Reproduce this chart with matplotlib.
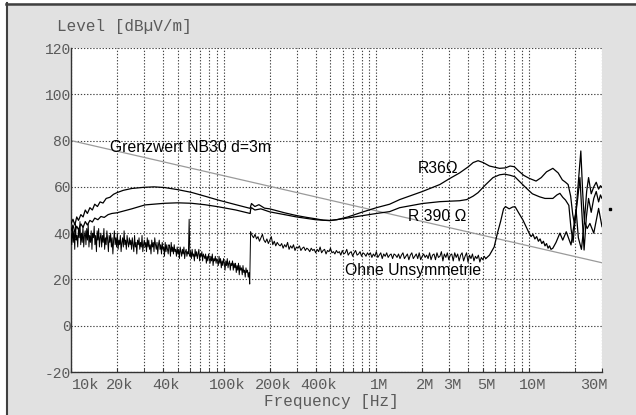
import numpy as np
import matplotlib
matplotlib.use("Agg")
import matplotlib.pyplot as plt
from matplotlib.lines import Line2D
from matplotlib.patches import Rectangle
from matplotlib.transforms import ScaledTranslation

# ---------------- data ----------------
# Limit line (Grenzwert NB30 d=3m)
limit_f = [10e3, 30e6]
limit_level = [80.0, 27.2]

# R36 Ohm curve
r36_f = [10e3, 10.3e3, 10.6e3, 10.9e3, 11.2e3, 11.6e3, 12e3, 12.4e3, 12.8e3, 13.3e3,
         13.8e3, 14.3e3, 14.9e3, 15.5e3, 16.2e3, 17e3, 18e3, 19e3, 20e3, 22e3,
         25e3, 30e3, 35e3, 41e3, 50e3, 61.6e3, 75e3, 92e3, 120e3, 149e3,
         150e3, 152e3, 160e3, 170e3, 185e3, 200e3, 250e3, 300e3, 350e3, 400e3,
         450e3, 495e3, 550e3, 650e3, 800e3, 1e6, 1.22e6, 1.42e6, 2e6, 2.6e6,
         3e6, 3.5e6, 4e6, 4.3e6, 4.63e6, 5e6, 5.5e6, 6.4e6, 7e6, 7.5e6,
         8e6, 8.5e6, 9.2e6, 10e6, 11.1e6, 12e6, 13e6, 14.3e6, 15.5e6, 16.5e6,
         17.3e6, 18e6, 18.7e6, 19.3e6, 19.8e6, 20.3e6, 21e6, 21.8e6, 22.4e6, 23e6,
         23.8e6, 24.5e6, 25.5e6, 26.5e6, 27.5e6, 28.5e6, 29.3e6, 30e6]
r36_level = [44, 46, 43.5, 47, 45.5, 48, 47, 50, 48.5, 51,
             50, 52.5, 51.5, 53.5, 53, 55, 55.5, 56.8, 57.5, 58.5,
             59.3, 59.8, 60, 59.7, 58.8, 57.6, 56, 54.3, 52.3, 50.7,
             51.5, 52.8, 51.5, 52.3, 50.8, 50.5, 48.8, 47.6, 46.8, 46.2,
             45.6, 45.5, 45.8, 47, 49, 51, 52.5, 54.5, 58, 61,
             63.5, 66, 68.7, 70.5, 71.3, 70.5, 69, 68, 68.2, 69,
             68.7, 67, 65, 63.7, 62.5, 64, 66.5, 68, 66, 63,
             62, 61, 56, 48, 44, 50, 62, 75.5, 58, 45,
             58, 64, 57, 60, 62, 59, 60.5, 59.8]

# R 390 Ohm curve
r390_f = [10e3, 10.3e3, 10.6e3, 10.9e3, 11.2e3, 11.6e3, 12e3, 12.4e3, 12.8e3, 13.3e3,
          13.8e3, 14.3e3, 15e3, 15.7e3, 16.5e3, 17.5e3, 18.5e3, 20e3, 25e3, 30.5e3,
          41e3, 50e3, 61.6e3, 75e3, 92e3, 120e3, 149e3,
          150e3, 152e3, 160e3, 175e3, 200e3, 250e3, 300e3, 400e3, 495e3, 600e3,
          800e3, 1e6, 1.22e6, 1.42e6, 2e6, 2.6e6, 3e6, 3.5e6, 3.9e6, 4.3e6,
          4.63e6, 5.2e6, 5.8e6, 6.4e6, 6.9e6, 7.5e6, 8.05e6, 8.6e6, 9.6e6, 10.5e6,
          11.7e6, 12.7e6, 14.3e6, 15.2e6, 15.9e6, 16.6e6, 17.3e6, 18.2e6, 18.8e6, 19.4e6,
          20e6, 20.8e6, 21.5e6, 22.1e6, 22.9e6, 23.7e6, 24.5e6, 25.5e6, 26.5e6, 27.5e6,
          28.5e6, 29.3e6, 30e6]
r390_level = [41, 43.5, 40.5, 43, 41.5, 44, 42.5, 45, 43.5, 45.5,
              44.8, 46.5, 45.8, 47.2, 46.8, 48, 48.5, 48.8, 50.5, 52.2,
              52.9, 53.1, 52.9, 52.3, 51.4, 50, 48.5,
              50.2, 51, 50, 50.5, 49.2, 48, 47, 45.8, 45.4, 46.2,
              47.5, 48.5, 49.3, 51, 52.8, 53.6, 53.8, 54, 54.5, 56,
              57.5, 61, 64, 65.2, 65.5, 65, 64.4, 62.5, 59.4, 57,
              55.7, 55, 55, 56.5, 57.2, 55.5, 54.3, 52, 42, 36,
              46, 55, 64, 50, 32.7, 47, 55, 49, 55, 58,
              53.5, 56.5, 55]

# Ohne Unsymmetrie: low-frequency sweep (10k .. 148k), dense noisy trace
ohne1_level = [
    40, 35, 43, 36, 41, 33, 44, 37, 39, 34, 42, 38, 45, 35, 40, 36, 43, 34, 39, 41,
    35, 42, 37, 44, 34, 39, 36, 41, 33, 40, 38, 43, 35, 39, 32, 41, 37, 42, 34, 38,
    40, 34, 39, 36, 42, 33, 38, 35, 41, 37, 32, 39, 36, 40, 34, 38, 31, 37, 41, 35,
    38, 34, 40, 33, 37, 35, 39, 32, 36, 38, 34, 41, 35, 37, 33, 39, 36, 34, 38, 35,
    37, 33, 38, 35, 32, 39, 34, 36, 31, 37, 35, 38, 33, 36, 34, 39, 32, 35, 37, 34,
    36, 32, 38, 34, 37, 33, 35, 31, 37, 34, 36, 32, 38, 35, 33, 36, 31, 35, 37, 33,
    35, 31, 36, 33, 34, 30, 36, 32, 35, 33, 31, 35, 34, 30, 36, 32, 34, 31, 35, 32,
    33, 30, 34, 31, 33, 29, 34, 32, 30, 33, 31, 34, 29, 32, 33, 30, 32, 31, 46, 30,
    32, 29, 33, 30, 31, 28, 33, 30, 32, 29, 31, 33, 28, 31, 30, 32, 28, 31, 30, 29,
    31, 27, 30, 28, 31, 29, 27, 30, 28, 31, 26, 29, 28, 30, 27, 29, 28, 26, 30, 27,
    29, 25, 28, 26, 29, 27, 24, 28, 26, 29, 25, 27, 28, 24, 27, 26, 28, 24, 27, 25,
    27, 23, 26, 24, 27, 22, 26, 24, 25, 22, 26, 23, 24, 21, 25, 23, 24, 21, 23, 18]
ohne1_f = np.geomspace(10e3, 148e3, len(ohne1_level))  # sweep grid

# Ohne Unsymmetrie: mid band sweep (150k .. 5.2M)
ohne2_level = [
    40.5, 39, 38, 39.5, 37.5, 38.5, 36.5, 38, 39.5, 37, 36, 37.5, 35.5, 37, 38.5, 35, 36.5, 34.5, 36, 35,
    34.5, 35.5, 33.5, 35, 34, 36, 33, 34.5, 33.5, 35, 32.5, 34, 33.5, 34.5, 32.5, 33.5, 34, 32.5, 33.5, 33,
    32, 33.5, 32.5, 33, 31.5, 33, 32, 34, 31.5, 32.5, 33, 31, 32.5, 32, 33.5, 31.5, 32, 31, 32.5, 31.5,
    32, 30.5, 32.5, 31, 31.5, 33, 30.5, 31.5, 32, 30, 31.5, 32.5, 30.5, 31, 32, 30, 31.5, 31, 30, 31.5,
    30.5, 31.5, 29.5, 31, 30, 32, 29.5, 30.5, 31.5, 29, 31, 30, 31.5, 29.5, 30.5, 31, 29, 31, 30.5, 29.5,
    31, 29, 30.5, 31.5, 29, 30, 31, 28.5, 30.5, 31.5, 29, 30, 31, 29, 31.5, 28.5, 30, 31, 29.5, 30.5,
    29, 31.5, 28.5, 30.5, 31, 28.5, 31.5, 29.5, 30, 32, 28, 31, 29.5, 31.5, 28.5, 30.5, 31, 28, 31.5, 29.5,
    31, 28, 30.5, 31.5, 28, 30, 31.5, 27.5, 30.5, 29, 31, 28, 30, 29, 30.5, 27.5, 29.5, 28.5, 30, 29]
ohne2_f = np.geomspace(150e3, 5.2e6, len(ohne2_level))  # sweep grid

# Ohne Unsymmetrie: high band
ohne3_f = [5.5e6, 5.9e6, 6.2e6, 6.5e6, 6.8e6, 7.0e6, 7.4e6, 7.8e6, 8.1e6, 8.5e6,
           9.1e6, 10e6, 10.3e6, 10.6e6, 10.9e6, 11.2e6, 11.5e6, 11.8e6, 12.1e6, 12.4e6,
           12.7e6, 13e6, 13.3e6, 13.6e6, 13.9e6, 14.3e6, 15e6, 15.9e6, 16.6e6, 17.5e6,
           18.8e6, 19.5e6, 20.3e6, 21e6, 22e6, 23e6, 24e6, 25e6, 26.5e6, 28.5e6, 30e6]
ohne3_level = [30.5, 34, 40, 45, 50.5, 51.5, 50.5, 51.3, 51.4, 49,
               45.7, 40, 38.5, 39.5, 37.5, 38.5, 36.5, 37.5, 35.5, 36.5,
               34.5, 35.5, 33.5, 34.5, 33, 33.5, 36, 40, 37, 40.6,
               34.9, 42, 50, 38, 33, 45, 42, 44.2, 40, 50.7, 42.8]

# stray marker right of the plot
dot_f = [33.7e6]
dot_level = [50.4]

# axis ticks
xtick_vals = [10e3, 20e3, 40e3, 100e3, 200e3, 400e3, 1e6, 2e6, 3e6, 5e6, 10e6, 30e6]
xtick_labels = ["10k", "20k", "40k", "100k", "200k", "400k", "1M", "2M", "3M", "5M", "10M", "30M"]
ytick_vals = [-20, 0, 20, 40, 60, 80, 100, 120]
ytick_labels = ["-20", "0", "20", "40", "60", "80", "100", "120"]

# ---------------- figure ----------------
W, H = 636, 415
fig = plt.figure(figsize=(W / 100, H / 100), dpi=100)
fig.patch.set_facecolor("#e1e1e1")

# white margins + dark frame (top and left)
fig.add_artist(Rectangle((0, 1 - 3.5 / H), 1, 3.5 / H, transform=fig.transFigure,
                         facecolor="white", edgecolor="none", zorder=0))
fig.add_artist(Rectangle((0, 0), 6 / W, 1, transform=fig.transFigure,
                         facecolor="white", edgecolor="none", zorder=0))
fig.add_artist(Line2D([6 / W, 1], [1 - 4.5 / H, 1 - 4.5 / H], transform=fig.transFigure,
                      color="#404040", lw=1.8))
fig.add_artist(Line2D([7 / W, 7 / W], [0, 1 - 3.5 / H], transform=fig.transFigure,
                      color="#404040", lw=1.5))

ax = fig.add_axes([71 / W, 1 - 372 / H, (602 - 71) / W, (372 - 48) / H])
ax.set_facecolor("white")
ax.set_xscale("log")
ax.set_xlim(10e3, 30e6)
ax.set_ylim(-20, 120)

grid_kw = dict(color="#444444", lw=0.8, ls=(0, (1.2, 1.6)))
ax.grid(True, which="both", axis="x", **grid_kw)
ax.grid(True, which="major", axis="y", **grid_kw)
ax.set_axisbelow(True)

for s in ["top", "right"]:
    ax.spines[s].set_visible(False)
for s in ["left", "bottom"]:
    ax.spines[s].set_color("#333333")
    ax.spines[s].set_linewidth(1.0)

mono = ["Liberation Mono", "DejaVu Sans Mono"]
ax.set_xticks(xtick_vals)
ax.set_xticklabels(xtick_labels, fontfamily=mono, fontsize=11, color="#5a5a5a")
ax.set_yticks(ytick_vals)
ax.set_yticklabels(ytick_labels, fontfamily=mono, fontsize=10.5, color="#5a5a5a")
ax.tick_params(axis="x", which="both", direction="in", length=3, color="#333333", pad=4)
ax.tick_params(axis="y", which="both", length=0, pad=0)

# tick label fine placement
xl = ax.get_xticklabels()
for i, lab in enumerate(xl):
    dx = 3
    if i == 0:
        lab.set_ha("left")
        dx = 1
    elif i == len(xl) - 1:
        lab.set_ha("center")
        dx = -8
    lab.set_transform(lab.get_transform() + ScaledTranslation(dx / 100, 0, fig.dpi_scale_trans))

# data
ax.plot(limit_f, limit_level, color="#9a9a9a", lw=0.9, zorder=2)
ax.plot(r36_f, r36_level, color="black", lw=0.9, zorder=3)
ax.plot(r390_f, r390_level, color="black", lw=0.9, zorder=3)
ax.plot(np.concatenate([ohne1_f, ohne2_f[:1]]), np.concatenate([ohne1_level, ohne2_level[:1]]),
        color="black", lw=0.7, zorder=3)
ax.plot(ohne2_f, ohne2_level, color="black", lw=0.75, zorder=3)
ax.plot(np.concatenate([ohne2_f[-1:], ohne3_f]), np.concatenate([ohne2_level[-1:], ohne3_level]),
        color="black", lw=0.9, zorder=3)
ax.plot(dot_f, dot_level, ls="none", marker="s", ms=2, color="black", clip_on=False)

# annotations
sans = ["Liberation Sans", "DejaVu Sans"]
for x, y, s in [(110, 147, "Grenzwert NB30 d=3m"), (418, 168, "R36Ω"),
                (408, 216, "R 390 Ω"), (345, 271, "Ohne Unsymmetrie")]:
    fig.text(x / W, 1 - y / H, s, fontfamily=sans, fontsize=11.3, va="center", ha="left")

fig.text(57 / W, 1 - 27 / H, "Level [dBµV/m]", fontfamily=mono, fontsize=11.5,
         color="#5a5a5a", va="center", ha="left")
fig.text(331 / W, 1 - 401 / H, "Frequency [Hz]", fontfamily=mono, fontsize=11.5,
         color="#5a5a5a", va="center", ha="center")

fig.savefig("out.png", dpi=100, facecolor=fig.get_facecolor())
